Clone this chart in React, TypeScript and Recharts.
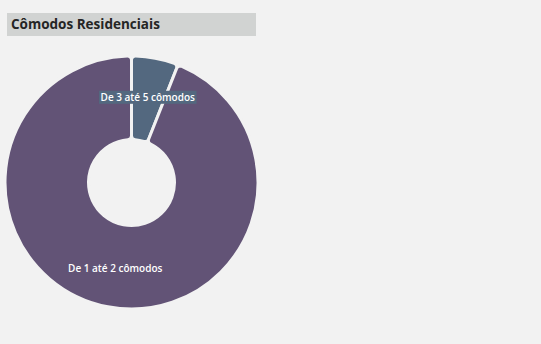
import { Pie, PieChart, Cell } from 'recharts'

const categories = ['De 3 até 5 cômodos', 'De 1 até 2 cômodos']
const shares = [6, 94]
const colors = ['#53687f', '#625376']

const chartData = categories.map((name, i) => ({ name, value: shares[i] }))

const RADIAN = Math.PI / 180

function SliceLabel(props: any) {
    const { cx, cy, midAngle, innerRadius, outerRadius, index } = props
    const r = (innerRadius + outerRadius) / 2 + 2
    const x = cx + r * Math.cos(-midAngle * RADIAN)
    const y = cy + r * Math.sin(-midAngle * RADIAN)
    const text = categories[index]
    const w = text.length * 5.2 + 4
    return (
        <g>
            <rect x={x - w / 2} y={y - 6.5} width={w} height={13} fill={colors[index]} />
            <text
                x={x}
                y={y}
                fill="#ffffff"
                textAnchor="middle"
                dominantBaseline="central"
                fontFamily="'Open Sans', sans-serif"
                fontSize={10}
                fontWeight={600}
            >
                {text}
            </text>
        </g>
    )
}

export default function App() {
    return (
        <div
            style={{
                position: 'fixed',
                left: 0,
                top: 0,
                width: 541,
                height: 344,
                background: '#f2f2f2',
                overflow: 'hidden',
            }}
        >
            <div
                style={{
                    position: 'absolute',
                    left: 7,
                    top: 13,
                    width: 249,
                    height: 23,
                    background: '#d1d3d2',
                    color: '#252525',
                    fontFamily: "'Open Sans', sans-serif",
                    fontWeight: 700,
                    fontSize: 13.5,
                    lineHeight: '23px',
                    paddingLeft: 4,
                    boxSizing: 'border-box',
                }}
            >
                Cômodos Residenciais
            </div>
            <PieChart
                width={541}
                height={344}
                margin={{ top: 0, right: 0, bottom: 0, left: 0 }}
                style={{ position: 'absolute', left: 0, top: 0 }}
            >
                <Pie
                    data={chartData}
                    dataKey="value"
                    cx={131.5}
                    cy={182.5}
                    innerRadius={43}
                    outerRadius={126.5}
                    startAngle={90}
                    endAngle={-270}
                    cornerRadius={4}
                    stroke="#f2f2f2"
                    strokeWidth={3}
                    label={SliceLabel}
                    labelLine={false}
                    isAnimationActive={false}
                >
                    {chartData.map((d, i) => (
                        <Cell key={d.name} fill={colors[i]} />
                    ))}
                </Pie>
            </PieChart>
        </div>
    )
}
